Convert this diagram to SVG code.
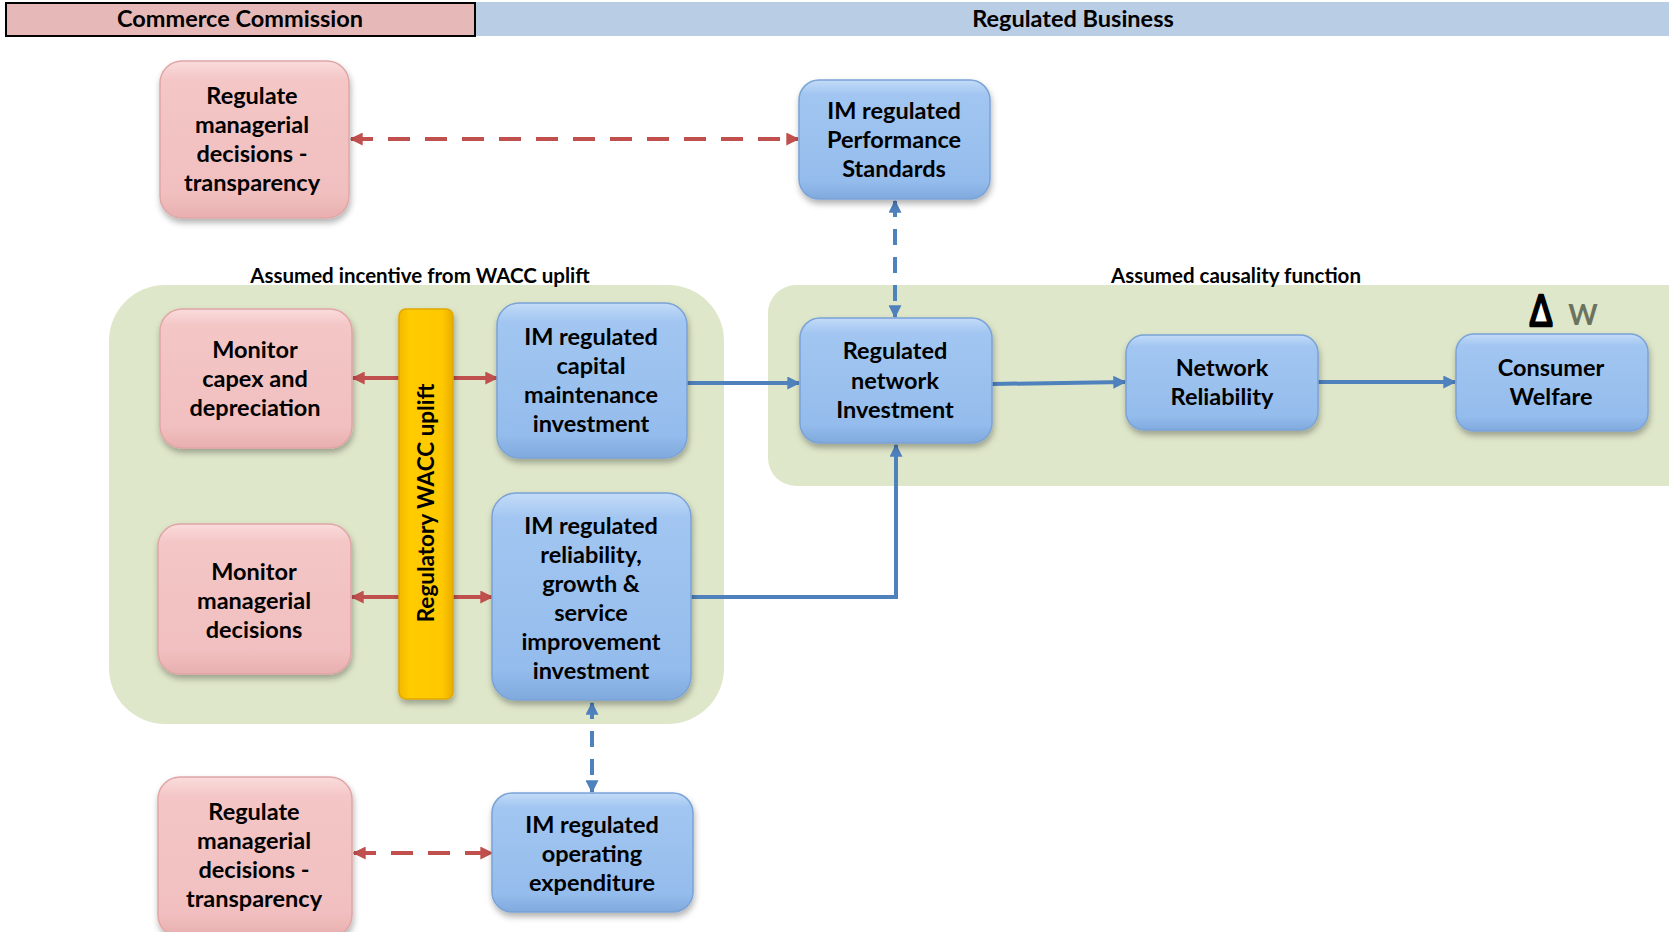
<svg xmlns="http://www.w3.org/2000/svg" width="1669" height="932" viewBox="0 0 1669 932">
<style>
.t{font-family:Lato,"Open Sans","Liberation Sans",sans-serif;font-weight:bold;font-size:23.5px;fill:#000;text-anchor:middle}
.lbl{font-family:Lato,"Open Sans","Liberation Sans",sans-serif;font-weight:bold;font-size:20.5px;fill:#000;text-anchor:middle}
.hdr{font-family:Lato,"Open Sans","Liberation Sans",sans-serif;font-weight:bold;font-size:23.5px;fill:#000;text-anchor:middle}
.pink{fill:url(#gPink);stroke:#E0A6A6;stroke-width:1.5;filter:url(#sh)}
.blue{fill:url(#gBlue);stroke:#7AA3D6;stroke-width:1.5;filter:url(#sh)}
.green{fill:#DFE7CA}
.rs{stroke:#C0504D;stroke-width:4;fill:none}
.bs{stroke:#4F81BD;stroke-width:4;fill:none}
.rd{stroke-dasharray:22 15}
.bd{stroke-dasharray:16 12}
</style>
<defs>
<linearGradient id="gPink" x1="0" y1="0" x2="0" y2="1">
<stop offset="0" stop-color="#FADCDC"/><stop offset="0.12" stop-color="#F4C6C6"/><stop offset="0.85" stop-color="#F1BFBF"/><stop offset="1" stop-color="#E8AFAF"/>
</linearGradient>
<linearGradient id="gBlue" x1="0" y1="0" x2="0" y2="1">
<stop offset="0" stop-color="#C3DBF8"/><stop offset="0.12" stop-color="#A2C6F1"/><stop offset="0.85" stop-color="#94BCEC"/><stop offset="1" stop-color="#80A9DE"/>
</linearGradient>
<linearGradient id="gYel" x1="0" y1="0" x2="1" y2="0">
<stop offset="0" stop-color="#F2B800"/><stop offset="0.2" stop-color="#FFCC00"/><stop offset="0.8" stop-color="#FFC800"/><stop offset="1" stop-color="#E8AE00"/>
</linearGradient>
<filter id="sh" x="-20%" y="-20%" width="140%" height="140%">
<feDropShadow dx="1" dy="4" stdDeviation="3" flood-color="#000" flood-opacity="0.3"/>
</filter>
<marker id="mR" viewBox="0 0 10 10" refX="9" refY="5" markerWidth="13" markerHeight="13" markerUnits="userSpaceOnUse" orient="auto-start-reverse"><path d="M0,0 L10,5 L0,10 z" fill="#C0504D"/></marker>
<marker id="mB" viewBox="0 0 10 10" refX="9" refY="5" markerWidth="13" markerHeight="13" markerUnits="userSpaceOnUse" orient="auto-start-reverse"><path d="M0,0 L10,5 L0,10 z" fill="#4F81BD"/></marker>
</defs>
<rect width="1669" height="932" fill="#fff"/>

<g id="header">
<rect x="476" y="2" width="1193" height="34" fill="#B9CDE5"/>
<rect x="6" y="3" width="469" height="33" fill="#E6B9B8" stroke="#000" stroke-width="2"/>
<text class="hdr" x="240" y="27">Commerce Commission</text>
<text class="hdr" x="1073" y="27">Regulated Business</text>
</g>

<g id="containers">
<rect class="green" x="109" y="285" width="615" height="439" rx="56"/>
<rect class="green" x="768" y="285" width="940" height="201" rx="28"/>
<text class="lbl" x="420" y="283">Assumed incentive from WACC uplift</text>
<text class="lbl" x="1236" y="283">Assumed  causality function</text>
</g>

<g id="connectors">
<line class="rs rd" x1="351" y1="139" x2="798" y2="139" marker-start="url(#mR)" marker-end="url(#mR)"/>
<line class="bs bd" x1="895" y1="201" x2="895" y2="317" marker-start="url(#mB)" marker-end="url(#mB)"/>
<line class="rs" x1="399" y1="378" x2="353" y2="378" marker-end="url(#mR)"/>
<line class="rs" x1="453" y1="378" x2="497" y2="378" marker-end="url(#mR)"/>
<line class="rs" x1="399" y1="597" x2="352" y2="597" marker-end="url(#mR)"/>
<line class="rs" x1="453" y1="597" x2="492" y2="597" marker-end="url(#mR)"/>
<line class="bs" x1="687" y1="383" x2="799" y2="383" marker-end="url(#mB)"/>
<polyline class="bs" points="691,597 896,597 896,445" marker-end="url(#mB)"/>
<line class="bs" x1="992" y1="384" x2="1125" y2="382" marker-end="url(#mB)"/>
<line class="bs" x1="1318" y1="382" x2="1455" y2="382" marker-end="url(#mB)"/>
<line class="bs bd" x1="592" y1="703" x2="592" y2="792" marker-start="url(#mB)" marker-end="url(#mB)"/>
<line class="rs rd" x1="354" y1="853" x2="492" y2="853" marker-start="url(#mR)" marker-end="url(#mR)"/>
</g>

<g id="n-regulate-top">
<rect class="pink" x="160" y="61" width="189" height="157" rx="22"/>
<text class="t" x="252" y="104">Regulate</text>
<text class="t" x="252" y="133">managerial</text>
<text class="t" x="252" y="162">decisions -</text>
<text class="t" x="252" y="191">transparency</text>
</g>

<g id="n-performance">
<rect class="blue" x="799" y="80" width="191" height="119" rx="20"/>
<text class="t" x="894" y="119">IM regulated</text>
<text class="t" x="894" y="148">Performance</text>
<text class="t" x="894" y="177">Standards</text>
</g>

<g id="n-monitor-capex">
<rect class="pink" x="160" y="309" width="192" height="139" rx="22"/>
<text class="t" x="255" y="358">Monitor</text>
<text class="t" x="255" y="387">capex and</text>
<text class="t" x="255" y="416">depreciation</text>
</g>

<g id="n-wacc">
<rect x="399" y="309" width="54" height="390" rx="7" fill="url(#gYel)" stroke="#E0A800" stroke-width="1.5" filter="url(#sh)"/>
<text class="t" style="font-size:22.5px" transform="translate(434,503) rotate(-90)" x="0" y="0">Regulatory WACC uplift</text>
</g>

<g id="n-capital">
<rect class="blue" x="497" y="303" width="190" height="155" rx="22"/>
<text class="t" x="591" y="345">IM regulated</text>
<text class="t" x="591" y="374">capital</text>
<text class="t" x="591" y="403">maintenance</text>
<text class="t" x="591" y="432">investment</text>
</g>

<g id="n-monitor-managerial">
<rect class="pink" x="158" y="524" width="193" height="150" rx="22"/>
<text class="t" x="254" y="580">Monitor</text>
<text class="t" x="254" y="609">managerial</text>
<text class="t" x="254" y="638">decisions</text>
</g>

<g id="n-reliability-inv">
<rect class="blue" x="492" y="493" width="199" height="207" rx="24"/>
<text class="t" x="591" y="534">IM regulated</text>
<text class="t" x="591" y="563">reliability,</text>
<text class="t" x="591" y="592">growth &amp;</text>
<text class="t" x="591" y="621">service</text>
<text class="t" x="591" y="650">improvement</text>
<text class="t" x="591" y="679">investment</text>
</g>

<g id="n-network-inv">
<rect class="blue" x="800" y="318" width="192" height="125" rx="20"/>
<text class="t" x="895" y="359">Regulated</text>
<text class="t" x="895" y="389">network</text>
<text class="t" x="895" y="418">Investment</text>
</g>

<g id="n-network-rel">
<rect class="blue" x="1126" y="335" width="192" height="95" rx="18"/>
<text class="t" x="1222" y="376">Network</text>
<text class="t" x="1222" y="405">Reliability</text>
</g>

<g id="n-consumer">
<rect class="blue" x="1456" y="334" width="192" height="97" rx="18"/>
<text class="t" x="1551" y="376">Consumer</text>
<text class="t" x="1551" y="405">Welfare</text>
</g>

<g id="delta-w">
<polygon points="1541,299 1532,324 1550,324" fill="#fff"/>
<text transform="translate(1541,326) scale(0.8,1)" x="0" y="0" font-family="'Liberation Sans',sans-serif" font-size="44" text-anchor="middle" fill="#000" stroke="#000" stroke-width="2.4" stroke-linejoin="round">Δ</text>
<text x="1583" y="325" font-family="Lato,'Open Sans',sans-serif" font-weight="bold" font-size="28" text-anchor="middle" fill="#6B735E">W</text>
</g>

<g id="n-regulate-bottom">
<rect class="pink" x="158" y="777" width="194" height="160" rx="22"/>
<text class="t" x="254" y="820">Regulate</text>
<text class="t" x="254" y="849">managerial</text>
<text class="t" x="254" y="878">decisions -</text>
<text class="t" x="254" y="907">transparency</text>
</g>

<g id="n-opex">
<rect class="blue" x="492" y="793" width="201" height="119" rx="20"/>
<text class="t" x="592" y="833">IM regulated</text>
<text class="t" x="592" y="862">operating</text>
<text class="t" x="592" y="891">expenditure</text>
</g>
</svg>
